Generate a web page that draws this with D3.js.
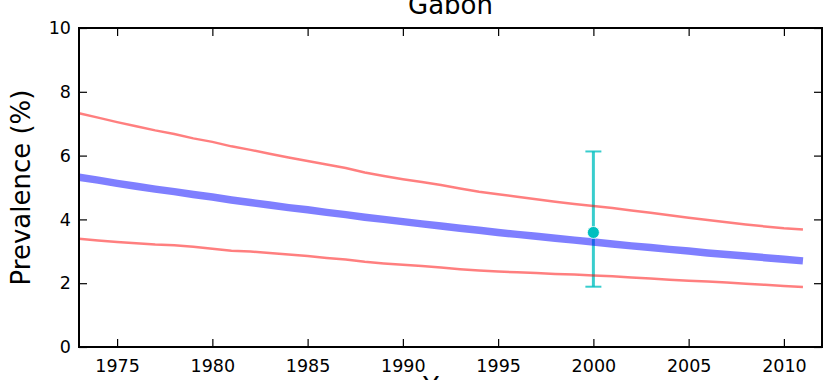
<!DOCTYPE html>
<html>
<head>
<meta charset="utf-8">
<script src="https://cdn.jsdelivr.net/npm/d3@7"></script>
<style>
  html, body { margin: 0; padding: 0; background: #fff; }
  svg { display: block; font-family: "DejaVu Sans", sans-serif; }
</style>
</head>
<body>
<svg id="chart" width="824" height="380"></svg>
<script>
const title = "Gabon";
const yLabel = "Prevalence (%)";
const xLabel = "Year";

const years = d3.range(1973, 2012);
const upper = [7.33, 7.19, 7.05, 6.92, 6.79, 6.68, 6.54, 6.43, 6.29, 6.18,
               6.06, 5.94, 5.83, 5.72, 5.61, 5.47, 5.36, 5.26, 5.17, 5.08,
               4.97, 4.87, 4.79, 4.71, 4.63, 4.55, 4.48, 4.42, 4.36, 4.28,
               4.21, 4.13, 4.05, 3.98, 3.91, 3.84, 3.78, 3.72, 3.68];
const median = [5.32, 5.23, 5.13, 5.04, 4.95, 4.87, 4.78, 4.70, 4.61, 4.53,
                4.45, 4.37, 4.30, 4.22, 4.15, 4.07, 4.00, 3.93, 3.86, 3.79,
                3.72, 3.66, 3.59, 3.53, 3.47, 3.41, 3.35, 3.29, 3.23, 3.17,
                3.12, 3.06, 3.01, 2.95, 2.90, 2.85, 2.80, 2.75, 2.70];
const lower = [3.39, 3.34, 3.29, 3.25, 3.21, 3.19, 3.14, 3.08, 3.02, 2.99,
               2.95, 2.90, 2.85, 2.79, 2.74, 2.67, 2.62, 2.58, 2.54, 2.49,
               2.44, 2.40, 2.37, 2.34, 2.32, 2.29, 2.27, 2.24, 2.22, 2.18,
               2.15, 2.11, 2.08, 2.05, 2.02, 1.98, 1.95, 1.91, 1.88];

const obsYears = [2000];
const obsValues = [3.59];
const obsLow = [1.89];
const obsHigh = [6.13];

const xTicks = [1975, 1980, 1985, 1990, 1995, 2000, 2005, 2010];
const yTicks = [0, 2, 4, 6, 8, 10];

const svg = d3.select("#chart");
const L = 79, R = 822, T = 28, B = 347;

const x = d3.scaleLinear().domain([1973, 2012]).range([L, R]);
const y = d3.scaleLinear().domain([0, 10]).range([B, T]);

const plot = svg.append("g");

// error bar (drawn first, lines overlay with alpha)
const obs = obsYears.map((yr, i) => ({yr, v: obsValues[i], lo: obsLow[i], hi: obsHigh[i]}));
const eb = plot.append("g").attr("stroke", "#00bfbf").attr("stroke-opacity", 0.78).attr("stroke-width", 3);
obs.forEach(d => {
  eb.append("line").attr("x1", x(d.yr)).attr("x2", x(d.yr)).attr("y1", y(d.lo)).attr("y2", y(d.hi));
  eb.append("line").attr("x1", x(d.yr) - 8).attr("x2", x(d.yr) + 8).attr("y1", y(d.lo)).attr("y2", y(d.lo)).attr("stroke-width", 2);
  eb.append("line").attr("x1", x(d.yr) - 8).attr("x2", x(d.yr) + 8).attr("y1", y(d.hi)).attr("y2", y(d.hi)).attr("stroke-width", 2);
});

const line = d3.line().x((d, i) => x(years[i])).y(d => y(d));

plot.append("path").datum(upper).attr("d", line)
  .attr("fill", "none").attr("stroke", "#ff0000").attr("stroke-opacity", 0.5).attr("stroke-width", 2.5);
plot.append("path").datum(lower).attr("d", line)
  .attr("fill", "none").attr("stroke", "#ff0000").attr("stroke-opacity", 0.5).attr("stroke-width", 2.5);
plot.append("path").datum(median).attr("d", line)
  .attr("fill", "none").attr("stroke", "#0000ff").attr("stroke-opacity", 0.5).attr("stroke-width", 7.5);

plot.selectAll("circle.obs").data(obs).enter().append("circle")
  .attr("class", "obs")
  .attr("cx", d => x(d.yr)).attr("cy", d => y(d.v)).attr("r", 6)
  .attr("fill", "#00bfbf").attr("stroke", "#ffffff").attr("stroke-width", 0.8);

// axes: ticks inward on all four sides
const tickLen = 8;
const fs = "17.5px";
const axB = svg.append("g").attr("transform", `translate(0,${B})`)
  .call(d3.axisBottom(x).tickValues(xTicks).tickFormat(d3.format("d")).tickSize(-tickLen).tickPadding(13));
const axT = svg.append("g").attr("transform", `translate(0,${T})`)
  .call(d3.axisTop(x).tickValues(xTicks).tickFormat("").tickSize(-tickLen));
const axL = svg.append("g").attr("transform", `translate(${L},0)`)
  .call(d3.axisLeft(y).tickValues(yTicks).tickFormat(d3.format("d")).tickSize(-tickLen).tickPadding(8));
const axR = svg.append("g").attr("transform", `translate(${R},0)`)
  .call(d3.axisRight(y).tickValues(yTicks).tickFormat("").tickSize(-tickLen));

[axB, axT, axL, axR].forEach(a => {
  a.select(".domain").remove();
  a.selectAll(".tick line").attr("stroke", "#000").attr("stroke-width", 1.2);
  a.selectAll("text").attr("fill", "#000").style("font-size", fs).style("font-family", "DejaVu Sans");
});

// frame
svg.append("rect").attr("x", L).attr("y", T).attr("width", R - L).attr("height", B - T)
  .attr("fill", "none").attr("stroke", "#000").attr("stroke-width", 2);

// title and labels
svg.append("text").attr("x", (L + R) / 2).attr("y", 14).attr("text-anchor", "middle")
  .style("font-size", "26px").text(title);
svg.append("text").attr("transform", `translate(30,${(T + B) / 2}) rotate(-90)`)
  .attr("text-anchor", "middle").style("font-size", "26px").text(yLabel);
svg.append("text").attr("x", (L + R) / 2).attr("y", 396).attr("text-anchor", "middle")
  .style("font-size", "26px").text(xLabel);
</script>
</body>
</html>
